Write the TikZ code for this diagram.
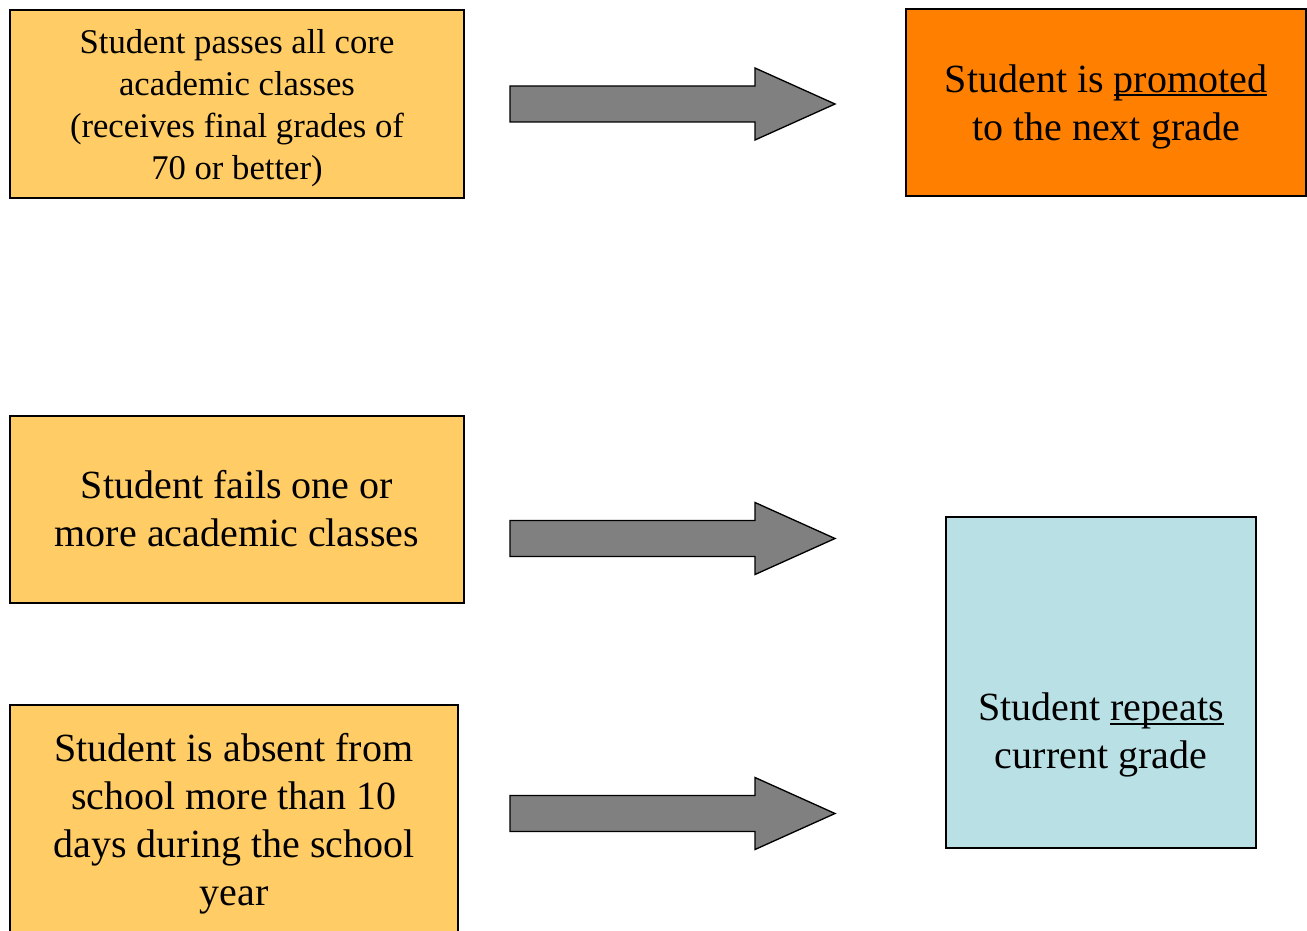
\documentclass[tikz,border=0pt]{standalone}
\usepackage{fontspec}
\setmainfont{Liberation Serif}
\definecolor{boxyellow}{HTML}{FFCC66}
\definecolor{boxorange}{HTML}{FF8000}
\definecolor{boxblue}{HTML}{B9E0E4}
\definecolor{arrowgrey}{HTML}{808080}
\newcommand{\ulword}[1]{\setbox0\hbox{#1}\rlap{\rule[-3.2pt]{\wd0}{1.4pt}}#1}
\tikzset{
  box/.style={draw=black, line width=1.3pt, rectangle, inner sep=0pt, outer sep=0pt},
  txtsmall/.style={align=center, inner sep=0pt, font=\fontsize{26}{31.5}\selectfont},
  txtbig/.style={align=center, inner sep=0pt, font=\fontsize{30}{36}\selectfont},
  arrowfill/.style={draw=black, line width=1pt, fill=arrowgrey, line join=miter},
  blockarrow/.pic={\draw[arrowfill] (0,-18) -- (245,-18) -- (245,-36) -- (325,0) -- (245,36) -- (245,18) -- (0,18) -- cycle;}
}
\begin{document}
\begin{tikzpicture}[x=0.75pt, y=-0.75pt]
\clip (0,0) rectangle (1307,931);
\fill[white] (0,0) rectangle (1307,931);

% boxes
\node[box, fill=boxyellow, minimum width=340.5pt, minimum height=141pt] (pass) at (237,104) {};
\node[txtsmall] (passtxt) at (237,108) {Student passes all core\\academic classes\\(receives final grades of\\70 or better)};

\node[box, fill=boxorange, minimum width=300pt, minimum height=140.25pt] (promoted) at (1106,102.5) {};
\node[txtbig] (promotedtxt) at (1106,106.5) {Student is \ulword{promoted}\\to the next grade};

\node[box, fill=boxyellow, minimum width=340.5pt, minimum height=140.25pt] (fails) at (237,509.5) {};
\node[txtbig] (failstxt) at (237,508.5) {Student fails one or\\more academic classes};

\node[box, fill=boxyellow, minimum width=336pt, minimum height=191.25pt] (absent) at (234,832.5) {};
\node[txtbig] (absenttxt) at (234,824) {Student is absent from\\school more than 10\\days during the school\\year};

\node[box, fill=boxblue, minimum width=232.5pt, minimum height=248.25pt] (repeat) at (1101,682.5) {};
\node[txtbig] (repeattxt) at (1101,735) {Student \ulword{repeats}\\current grade};

% block arrows
\pic (arrowA) at (510,104) {blockarrow};
\pic (arrowB) at (510,538.5) {blockarrow};
\pic (arrowC) at (510,813.5) {blockarrow};
\end{tikzpicture}
\end{document}
